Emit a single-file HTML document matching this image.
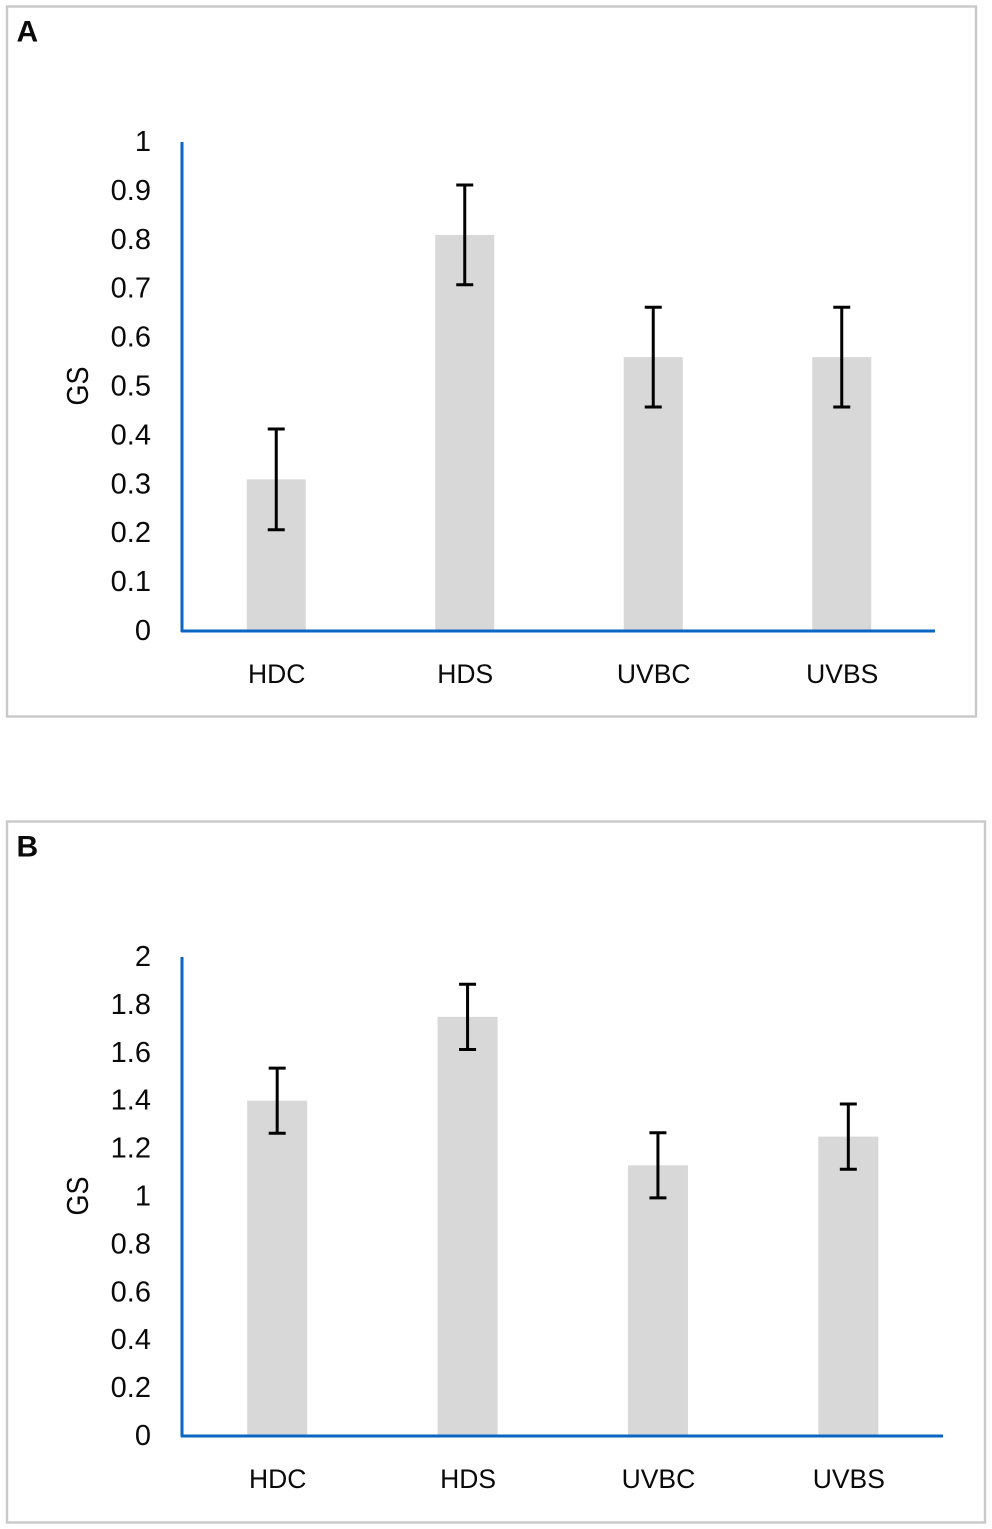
<!DOCTYPE html>
<html>
<head>
<meta charset="utf-8">
<style>
html,body{margin:0;padding:0;background:#fff;width:992px;height:1529px;overflow:hidden}
svg{display:block}
text{font-family:"Liberation Sans",sans-serif;fill:#0a0a0a}
</style>
</head>
<body>
<svg id="fig" width="992" height="1529" viewBox="0 0 992 1529" xmlns="http://www.w3.org/2000/svg"></svg>
<script>
var categories = ['HDC', 'HDS', 'UVBC', 'UVBS'];
var valuesA = [0.31, 0.81, 0.56, 0.56];
var errorsA = [0.103, 0.102, 0.102, 0.102];
var ticksA = ['0', '0.1', '0.2', '0.3', '0.4', '0.5', '0.6', '0.7', '0.8', '0.9', '1'];
var valuesB = [1.40, 1.75, 1.13, 1.25];
var errorsB = [0.136, 0.136, 0.136, 0.136];
var ticksB = ['0', '0.2', '0.4', '0.6', '0.8', '1', '1.2', '1.4', '1.6', '1.8', '2'];

var svg = document.getElementById('fig');
var NS = 'http://www.w3.org/2000/svg';
function mk(tag, attrs, parent, txt) {
  var e = document.createElementNS(NS, tag);
  for (var k in attrs) e.setAttribute(k, attrs[k]);
  if (txt !== undefined) e.textContent = txt;
  (parent || svg).appendChild(e);
  return e;
}
function drawPanel(p, values, errors, ticks) {
  var g = mk('g', {});
  
  
  var frame = mk('rect', {x: p.fx, y: p.fy, width: p.fw, height: p.fh, fill: '#fff', stroke: '#c9c9c9', 'stroke-width': 2.4}, g);
  
  
  var lab = mk('text', {x: p.fx + 9.5, y: p.fy + 35, 'font-size': 30, 'font-weight': 'bold', fill: '#000'}, g, p.label);
  
  

  var yMax = parseFloat(ticks[ticks.length - 1]);
  function yScale(v) { return p.y0 - (v / yMax) * (p.y0 - p.y1); }
  var band = (p.x1 - p.x0) / categories.length;
  function xScale(i) { return p.x0 + band * (i + 0.5); }

  categories.forEach(function (c, i) {
    var cx = xScale(i), top = yScale(values[i]);
    var bar = mk('rect', {x: cx - p.bw / 2, y: top, width: p.bw, height: p.y0 - top, fill: '#d8d8d8'}, g);
    
    
  });
  ticks.forEach(function (t) {
    var tl = mk('text', {x: 151, y: yScale(parseFloat(t)) + 9, 'font-size': 29, 'text-anchor': 'end'}, g, t);
    
    
  });
  var yAxis = mk('line', {x1: p.x0, x2: p.x0, y1: p.y1, y2: p.y0 + 1, stroke: '#0a66c2', 'stroke-width': 3}, g);
  
  
  var xAxis = mk('line', {x1: p.x0 - 1, x2: p.axisEnd, y1: p.y0, y2: p.y0, stroke: '#0a66c2', 'stroke-width': 3}, g);
  
  

  categories.forEach(function (c, i) {
    var cx = xScale(i), hi = yScale(values[i] + errors[i]), lo = yScale(values[i] - errors[i]);
    var eg = mk('g', {stroke: '#000', 'stroke-width': 3, fill: 'none'}, g);
    
    
    mk('line', {x1: cx, x2: cx, y1: hi, y2: lo}, eg);
    mk('line', {x1: cx - 8.5, x2: cx + 8.5, y1: hi, y2: hi}, eg);
    mk('line', {x1: cx - 8.5, x2: cx + 8.5, y1: lo, y2: lo}, eg);
    var xl = mk('text', {x: cx + 0.5, y: p.y0 + 52, 'font-size': 26.5, 'text-anchor': 'middle'}, g, c);
    
    
  });
  var yt = mk('text', {x: 0, y: 0, 'font-size': 31, 'text-anchor': 'middle', textLength: 39, lengthAdjust: 'spacingAndGlyphs', transform: 'translate(88,' + p.ty + ') rotate(-90)'}, g, 'GS');
  
  
}
drawPanel({label: 'A', fx: 7, fy: 6.5, fw: 969, fh: 710, x0: 182, x1: 936, axisEnd: 935, y0: 631, y1: 142, bw: 59, ty: 386}, valuesA, errorsA, ticksA);
drawPanel({label: 'B', fx: 7, fy: 821.5, fw: 978, fh: 701, x0: 182, x1: 943.5, axisEnd: 943, y0: 1436, y1: 957, bw: 60, ty: 1196}, valuesB, errorsB, ticksB);
</script>
</body>
</html>
